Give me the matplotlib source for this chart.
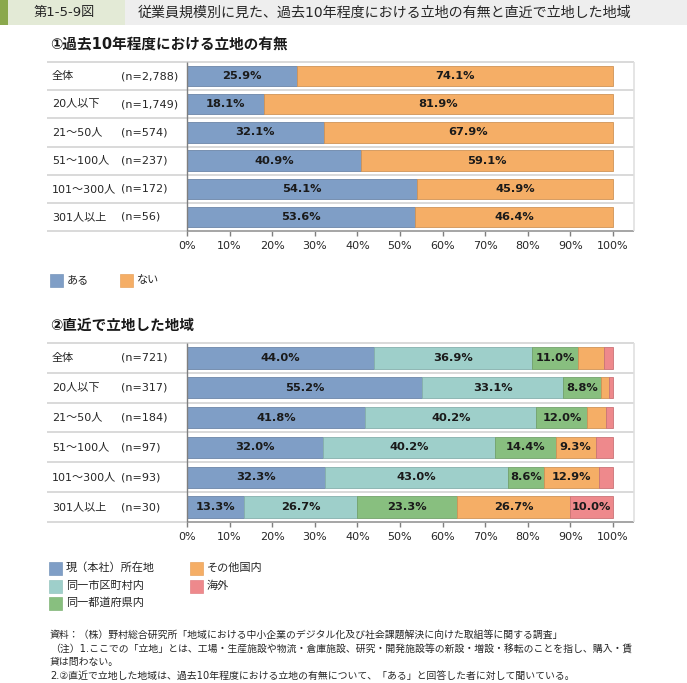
import matplotlib.pyplot as plt
import matplotlib.patches as mpatches
import numpy as np

plt.rcParams['font.family'] = ['DejaVu Sans', 'Noto Sans CJK JP']

W, H = 687, 683

# ---- data ----
sizes = ["全体", "20人以下", "21～50人", "51～100人", "101～300人", "301人以上"]

n_top = ["(n=2,788)", "(n=1,749)", "(n=574)", "(n=237)", "(n=172)", "(n=56)"]
aru = [25.9, 18.1, 32.1, 40.9, 54.1, 53.6]
nai = [74.1, 81.9, 67.9, 59.1, 45.9, 46.4]

n_bottom = ["(n=721)", "(n=317)", "(n=184)", "(n=97)", "(n=93)", "(n=30)"]
genzai = [44.0, 55.2, 41.8, 32.0, 32.3, 13.3]
shichoson = [36.9, 33.1, 40.2, 40.2, 43.0, 26.7]
todofuken = [11.0, 8.8, 12.0, 14.4, 8.6, 23.3]
sonota = [6.0, 1.9, 4.3, 9.3, 12.9, 26.7]
kaigai = [2.1, 1.0, 1.7, 4.1, 3.2, 10.0]

top_names = ["ある", "ない"]
bottom_names = ["現（本社）所在地", "同一市区町村内", "同一都道府県内", "その他国内", "海外"]

blue = "#7f9ec6"
orange = "#f5ae66"
teal = "#9ecfca"
green = "#88bf7f"
pink = "#ee898c"

xticks = np.arange(0, 101, 10)

fig = plt.figure(figsize=(W / 100, H / 100), dpi=100)


def rect(l, t, r, b):
    return [l / W, 1 - b / H, (r - l) / W, (b - t) / H]


def fx(x):
    return x / W


def fy(y):
    return 1 - y / H


def darker(c, f=0.85):
    rgb = np.array(plt.matplotlib.colors.to_rgb(c))
    return tuple(rgb * f)


X0, X100, XR, XL = 187, 613, 634, 47


def panel(top, bottom, ns, series, colors, show_min):
    ax = fig.add_axes(rect(X0, top, XR, bottom))
    scale = (X100 - X0) / 100
    ax.set_xlim(0, (XR - X0) / scale)
    ax.set_ylim(len(sizes) - 0.5, -0.5)
    y = np.arange(len(sizes))
    left = np.zeros(len(sizes))
    for vals, c in zip(series, colors):
        vals = np.array(vals)
        ax.barh(y, vals, left=left, height=0.72, color=c,
                edgecolor=darker(c), linewidth=0.6, zorder=3)
        for yi, l, v in zip(y, left, vals):
            if v >= show_min:
                ax.text(l + v / 2, yi, f"{v:.1f}%", ha="center", va="center",
                        fontsize=8.2, fontweight="bold", color="#1a1a1a", zorder=4)
        left += vals
    # table lines
    xl = (XL - X0) / scale
    xr = (XR - X0) / scale
    ax.hlines(np.arange(-0.5, len(sizes)), xl, xr, color="#d9d9d9",
              linewidth=1.4, clip_on=False, zorder=1)
    ax.hlines(len(sizes) - 0.5, 0, xr, color="#a6a6a6", linewidth=1.4,
              clip_on=False, zorder=2)
    ax.vlines(xr, -0.5, len(sizes) - 0.5, color="#e0e0e0", linewidth=1.2,
              clip_on=False)
    ax.vlines(0, -0.5, len(sizes) - 0.5, color="#7f7f7f", linewidth=1.0,
              clip_on=False, zorder=5)
    for yi, name, n in zip(y, sizes, ns):
        ax.text((52 - X0) / scale, yi, name, ha="left", va="center",
                fontsize=8, color="#262626", clip_on=False)
        ax.text((121 - X0) / scale, yi, n, ha="left", va="center",
                fontsize=8, color="#262626", clip_on=False)
    for s in ax.spines.values():
        s.set_visible(False)
    ax.set_yticks([])
    ax.set_xticks(xticks)
    ax.set_xticklabels([f"{t}%" for t in xticks])
    ax.tick_params(axis="x", direction="out", length=3.5, width=1,
                   color="#7f7f7f", labelsize=8, labelcolor="#262626", pad=4)
    return ax


panel(62, 231, n_top, [aru, nai], [blue, orange], 0)
panel(343, 522, n_bottom, [genzai, shichoson, todofuken, sonota, kaigai],
      [blue, teal, green, orange, pink], 8)


def legend_item(x, y, color, label):
    fig.patches.append(mpatches.Rectangle((fx(x), fy(y + 6.5)), 13 / W, 13 / H,
                                          facecolor=color, edgecolor=darker(color, 0.95),
                                          linewidth=0.5, transform=fig.transFigure))
    fig.text(fx(x + 17), fy(y), label, ha="left", va="center", fontsize=8,
             color="#262626")


legend_item(50, 280, blue, top_names[0])
legend_item(120, 280, orange, top_names[1])

leg_pos = [(49, 568), (49, 586), (49, 603), (190, 568), (190, 586)]
for (lx, ly), c, name in zip(leg_pos, [blue, teal, green, orange, pink], bottom_names):
    legend_item(lx, ly, c, name)

# header
fig.patches.append(mpatches.Rectangle((0, fy(25)), 1, 25 / H, facecolor="#eeeeee",
                                      edgecolor="none", transform=fig.transFigure))
fig.patches.append(mpatches.Rectangle((0, fy(25)), fx(125), 25 / H, facecolor="#e3ead6",
                                      edgecolor="none", transform=fig.transFigure))
fig.patches.append(mpatches.Rectangle((0, fy(25)), fx(8), 25 / H, facecolor="#8aa84c",
                                      edgecolor="none", transform=fig.transFigure))
fig.text(fx(64), fy(12.5), "第1-5-9図", ha="center", va="center", fontsize=9.5,
         color="#262626")
fig.text(fx(138), fy(12.5),
         "従業員規模別に見た、過去10年程度における立地の有無と直近で立地した地域",
         ha="left", va="center", fontsize=10.1, color="#262626")

fig.text(fx(50), fy(45), "①過去10年程度における立地の有無", ha="left", va="center",
         fontsize=10.5, fontweight="bold", color="#1a1a1a")
fig.text(fx(50), fy(325), "②直近で立地した地域", ha="left", va="center",
         fontsize=10.5, fontweight="bold", color="#1a1a1a")

notes = [
    "資料：（株）野村総合研究所「地域における中小企業のデジタル化及び社会課題解決に向けた取組等に関する調査」",
    "（注）1.ここでの「立地」とは、工場・生産施設や物流・倉庫施設、研究・開発施設等の新設・増設・移転のことを指し、購入・賃",
    "貸は問わない。",
    "2.②直近で立地した地域は、過去10年程度における立地の有無について、「ある」と回答した者に対して聞いている。",
]
for yy, line in zip([635, 649, 662, 676], notes):
    fig.text(fx(50), fy(yy), line, ha="left", va="center", fontsize=7.1,
             color="#262626")

fig.savefig("out.png", dpi=100)
